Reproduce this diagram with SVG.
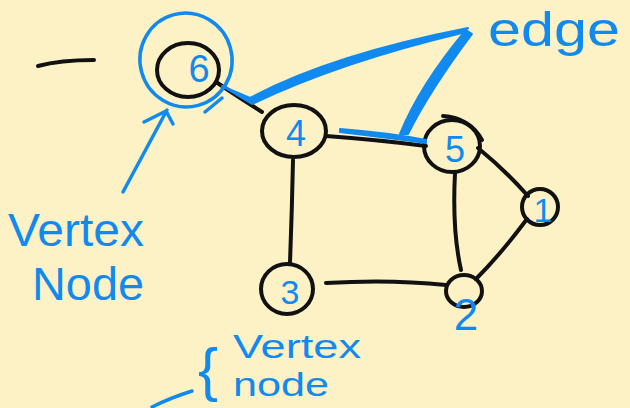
<svg xmlns="http://www.w3.org/2000/svg" width="630" height="408" viewBox="0 0 630 408">
<style>
.ink{fill:none;stroke:#111;stroke-width:4;stroke-linecap:round;stroke-linejoin:round}
.blue{fill:none;stroke:#118AF0;stroke-width:3.5;stroke-linecap:round;stroke-linejoin:round}
.bfill{fill:#118AF0;stroke:#118AF0;stroke-width:2;stroke-linejoin:round}
.lbl{font-family:"Liberation Sans",Arial,sans-serif;fill:#118AF0}
.num{font-family:"Liberation Sans",Arial,sans-serif;fill:#118AF0;text-anchor:middle}
</style>
<rect width="630" height="408" fill="#FDF2C6"/>
<path class="ink" d="M38 66 Q60 60 94 60"/>
<g id="connectors">
<path class="ink" d="M216 82 Q240 98 262 112"/>
<path class="ink" d="M326 136 Q380 140 426 146"/>
<path class="ink" d="M293 160 Q292 210 290 262"/>
<path class="ink" d="M326 283 Q390 279 446 285"/>
<path class="ink" d="M455 173 Q452 230 461 270"/>
<path class="ink" d="M478 148 Q505 170 528 196"/>
<path class="ink" d="M527 219 Q500 255 476 279"/>
</g>
<g id="node-6">
<ellipse class="ink" cx="188" cy="70" rx="31" ry="27"/>
<text class="num" x="199" y="82" font-size="38">6</text>
</g>
<g id="node-4">
<ellipse class="ink" cx="294" cy="131" rx="32" ry="26"/>
<text class="num" x="296" y="146" font-size="36">4</text>
</g>
<g id="node-5">
<ellipse class="ink" cx="452" cy="146" rx="28" ry="26"/>
<path class="ink" d="M443 116 Q470 118 482 140"/>
<text class="num" x="455" y="162" font-size="36">5</text>
</g>
<g id="node-1">
<ellipse class="ink" cx="540" cy="207" rx="18" ry="18"/>
<text class="num" x="543" y="222" font-size="34">1</text>
</g>
<g id="node-3">
<ellipse class="ink" cx="287" cy="289" rx="26" ry="25"/>
<text class="num" x="290" y="304" font-size="34">3</text>
</g>
<g id="node-2">
<ellipse class="ink" cx="464" cy="291" rx="18" ry="16"/>
<text class="num" x="466" y="330" font-size="44">2</text>
</g>
<g id="annotations">
<ellipse class="blue" cx="186" cy="60" rx="46" ry="47" transform="rotate(-15 186 60)"/>
<path class="blue" d="M205 112 L222 98"/>
<path class="blue" d="M123 192 L167 110 M144 122 L166 111 L173 124"/>
<path class="bfill" d="M222 86 L250 98 Q330 55 468 28 L462 33 Q340 62 252 104 Z"/>
<path class="bfill" d="M466 30 L472 34 Q430 90 408 134 L400 134 Q420 85 466 30 Z"/>
<path class="bfill" d="M340 129 Q390 133 426 140 L426 143 Q390 138 340 132 Z"/>
<text class="lbl" x="488" y="46" font-size="48" textLength="132" lengthAdjust="spacingAndGlyphs">edge</text>
<text class="lbl" x="8" y="246" font-size="46" textLength="136" lengthAdjust="spacingAndGlyphs">Vertex</text>
<text class="lbl" x="32" y="300" font-size="46" textLength="112" lengthAdjust="spacingAndGlyphs">Node</text>
<text class="lbl" x="198" y="390" font-size="60">{</text>
<text class="lbl" x="233" y="358" font-size="34" textLength="128" lengthAdjust="spacingAndGlyphs">Vertex</text>
<text class="lbl" x="233" y="396" font-size="34" textLength="96" lengthAdjust="spacingAndGlyphs">node</text>
<path class="blue" d="M152 407 Q170 398 192 391"/>
</g>
</svg>
